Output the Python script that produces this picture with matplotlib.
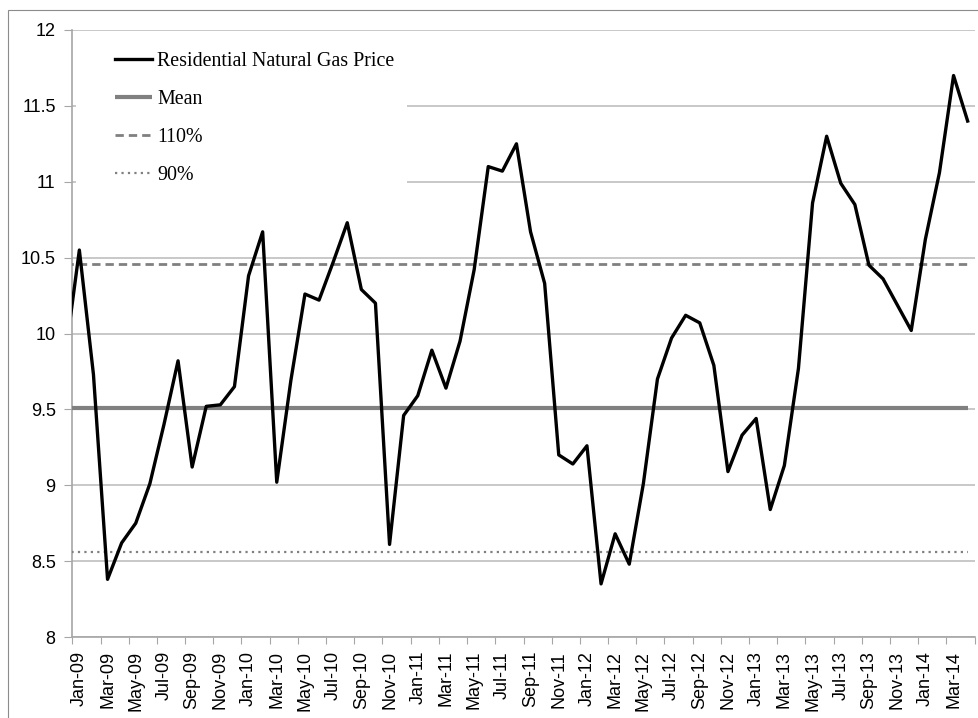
#!/usr/bin/env python

# -----------------------------------------------------------------------------
#  plot.py
#
#  Residential natural gas price with mean and +/-10% bands.
# -----------------------------------------------------------------------------

import numpy as np
import pandas as pd
import matplotlib.pyplot as plt
import matplotlib.ticker as mticker
from matplotlib.patches import Rectangle

#------------------------------------------------------------------------------
# data
#------------------------------------------------------------------------------
# monthly categories; Dec-08 only feeds the clipped lead-in at the left edge
months = pd.date_range('2008-12-01', '2014-04-01', freq='MS')
month_labels = [m.strftime('%b-%y') for m in months]

price = [
    9.85,                                                    # Dec-08
    10.55, 9.73, 8.38, 8.62, 8.75, 9.01, 9.40, 9.82, 9.12, 9.52, 9.53, 9.65,
    10.38, 10.67, 9.02, 9.69, 10.26, 10.22, 10.47, 10.73, 10.29, 10.20, 8.61, 9.46,
    9.59, 9.89, 9.64, 9.95, 10.42, 11.10, 11.07, 11.25, 10.67, 10.33, 9.20, 9.14,
    9.26, 8.35, 8.68, 8.48, 9.01, 9.70, 9.97, 10.12, 10.07, 9.79, 9.09, 9.33,
    9.44, 8.84, 9.13, 9.77, 10.86, 11.30, 10.99, 10.85, 10.45, 10.36, 10.19, 10.02,
    10.62, 11.06, 11.70, 11.40,
]
mean_price = 9.51

y_ticks = [8, 8.5, 9, 9.5, 10, 10.5, 11, 11.5, 12]

#------------------------------------------------------------------------------
# plot
#------------------------------------------------------------------------------
fig = plt.figure(figsize=(9.79, 7.18), dpi=100)
ax = fig.add_axes([72.3/979, 81/718, 902.4/979, 607/718])

# outer chart border
fig.patches.append(Rectangle((8/979, -0.1), 1.2, 1.1 - 10/718,
                             transform=fig.transFigure, fill=False,
                             edgecolor='#8c8c8c', linewidth=0.8))

x = np.arange(len(price))
n = len(x)
mean_line = np.full(n, mean_price)

ax.plot(x, mean_line, color='#808080', linewidth=3.0, solid_capstyle='butt',
        label='Mean', zorder=3)
ax.plot(x, mean_line*1.1, color='#808080', linewidth=2.0,
        linestyle=(0, (3.0, 1.8)), label='110%', zorder=3)
ax.plot(x, mean_line*0.9, color='#808080', linewidth=1.6,
        linestyle=(0, (1, 1.9)), label='90%', zorder=3)
ax.plot(x, price, color='black', linewidth=2.4, label='Residential Natural Gas Price',
        zorder=4)

ax.set_xlim(0.5, n - 0.5)
ax.set_ylim(8, 12)

# y axis
ax.set_yticks(y_ticks)
ax.yaxis.set_major_formatter(mticker.FuncFormatter(lambda v, p: '{:g}'.format(v)))
ax.grid(True, axis='y', color='#bfbfbf', linewidth=1.2, zorder=0)
ax.set_axisbelow(True)

# x axis: ticks on category boundaries, labels on category centres
ax.xaxis.set_major_locator(mticker.FixedLocator(np.arange(0.5, n, 2)))
ax.xaxis.set_major_formatter(mticker.NullFormatter())
ax.xaxis.set_minor_locator(mticker.FixedLocator(np.arange(1, n, 2)))
ax.xaxis.set_minor_formatter(mticker.FixedFormatter(month_labels[1::2]))
ax.tick_params(axis='x', which='minor', length=0, labelrotation=90, pad=10)
ax.tick_params(axis='x', which='major', length=5, color='#a6a6a6', direction='out')
ax.tick_params(axis='y', length=6, color='#a6a6a6', direction='out', pad=6)

for lab in ax.get_xticklabels(minor=True) + ax.get_yticklabels():
    lab.set_fontfamily('Liberation Sans')
    lab.set_fontsize(13)

for side in ['top', 'right']:
    ax.spines[side].set_visible(False)
for side in ['left', 'bottom']:
    ax.spines[side].set_color('#a6a6a6')
    ax.spines[side].set_linewidth(1.2)

# white legend background hides the gridlines behind it
ax.add_patch(Rectangle((0.004, 0.72), 0.367, 0.27, transform=ax.transAxes,
                       facecolor='white', edgecolor='none', zorder=1))

# legend in the upper left, serif, no frame
h, l = ax.get_legend_handles_labels()
order = [3, 0, 1, 2]
ax.legend([h[i] for i in order], [l[i] for i in order], loc='upper left',
          bbox_to_anchor=(0.0274, 0.994), frameon=False,
          prop={'family': 'Liberation Serif', 'size': 14.4},
          handlelength=1.85, handletextpad=0.25, labelspacing=0.95)

fig.savefig('out.png', dpi=100)
